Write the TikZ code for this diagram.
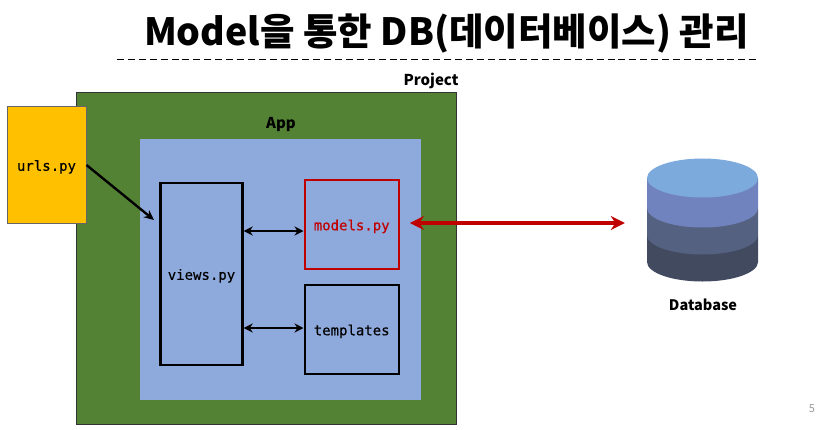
\documentclass[tikz,border=0pt]{standalone}
\usepackage{fontspec}
\usetikzlibrary{arrows.meta}
\setmainfont{Noto Sans CJK KR}
\setmonofont[FakeBold=0.3]{DejaVu Sans Mono}
\definecolor{projgreen}{RGB}{84,130,53}
\definecolor{appblue}{RGB}{142,169,219}
\definecolor{urlsgold}{RGB}{255,192,0}
\definecolor{modelred}{RGB}{192,0,0}
\definecolor{dbtop}{RGB}{124,170,220}
\definecolor{dbone}{RGB}{113,131,190}
\definecolor{dbtwo}{RGB}{84,97,128}
\definecolor{dbthree}{RGB}{66,74,96}
\tikzset{
	filebox/.style={draw=black, line width=2.4pt, fill=appblue, inner sep=0pt, text height=11.5pt, text depth=0pt, font=\ttfamily\fontsize{14}{16}\selectfont},
	caption/.style={font=\bfseries\fontsize{15}{18}\selectfont, inner sep=0pt},
	link/.style={{Stealth[length=9pt,width=9pt]}-{Stealth[length=9pt,width=9pt]}, line width=2.4pt, black},
}
\begin{document}
\begin{tikzpicture}[x=1pt, y=-1pt]
	\useasboundingbox (0,0) rectangle (829,429);
	\node (title) [inner sep=0pt, font=\bfseries\fontsize{37.5}{42}\selectfont] at (446.5,33.5) {Model을 통한 DB(데이터베이스) 관리};
	\coordinate (ruleL) at (117,59.5);
	\coordinate (ruleR) at (756,59.5);
	\draw[dash pattern=on 7pt off 3.9pt, line width=1.1pt] (ruleL) -- (ruleR);

	\node (project) [draw=black!80, line width=1pt, fill=projgreen, minimum width=380pt, minimum height=332pt, inner sep=0pt] at (266.5,258) {};
	\node (projectlabel) [caption] at (431,81) {Project};
	\node (app) [fill=appblue, minimum width=281pt, minimum height=261pt, inner sep=0pt] at (280.5,269.5) {};
	\node (applabel) [caption] at (281,124) {App};

	\node (urls) [draw=black!60, line width=1pt, fill=urlsgold, minimum width=79pt, minimum height=117pt, inner sep=0pt, text height=11.5pt, text depth=0pt, font=\ttfamily\fontsize{14}{16}\selectfont] at (46.5,165) {urls.py};
	\node (views) [filebox, minimum width=82pt, minimum height=182pt] at (201.5,274) {views.py};
	\node (models) [filebox, draw=modelred, text=modelred, minimum width=94pt, minimum height=89pt] at (351.7,224.5) {models.py};
	\node (templates) [filebox, minimum width=94pt, minimum height=89pt] at (351.7,329.5) {templates};

	\coordinate (viewsin) at (154,220);
	\draw[-{Stealth[length=10pt,width=9pt]}, line width=2.4pt] (urls.east) -- (viewsin);
	\draw[link] ([yshift=43pt]views.east) -- ([yshift=-6.5pt]models.west);
	\draw[link] ([yshift=-54pt]views.east) -- ([yshift=1.5pt]templates.west);

	% database cylinder, bottom layer first
	\fill[dbthree] (647,262) arc[start angle=180, end angle=360, x radius=55.5, y radius=-19.5] -- (758,235) -- (647,235) -- cycle;
	\fill[dbtwo] (647,235) arc[start angle=180, end angle=360, x radius=55.5, y radius=-19.5] -- (758,208) -- (647,208) -- cycle;
	\fill[dbone] (647,208) arc[start angle=180, end angle=360, x radius=55.5, y radius=-19.5] -- (758,178) -- (647,178) -- cycle;
	\fill[dbtop] (702.5,178) ellipse[x radius=55.5, y radius=19.5];
	\node (db) [minimum width=111pt, minimum height=122pt, inner sep=0pt] at (702.5,220.5) {};
	\node (dblabel) [caption, font=\bfseries\fontsize{14.5}{18}\selectfont] at (703,305) {Database};

	\draw[{Stealth[length=14pt,width=14pt]}-{Stealth[length=14pt,width=14pt]}, line width=3.4pt, modelred, shorten <=10pt, shorten >=22pt] ([yshift=1.5pt]models.east) -- ([yshift=-2.5pt]db.west);
	\node (page) [inner sep=0pt, text=black!40, font=\fontsize{11}{13}\selectfont] at (812,409) {5};
\end{tikzpicture}
\end{document}
